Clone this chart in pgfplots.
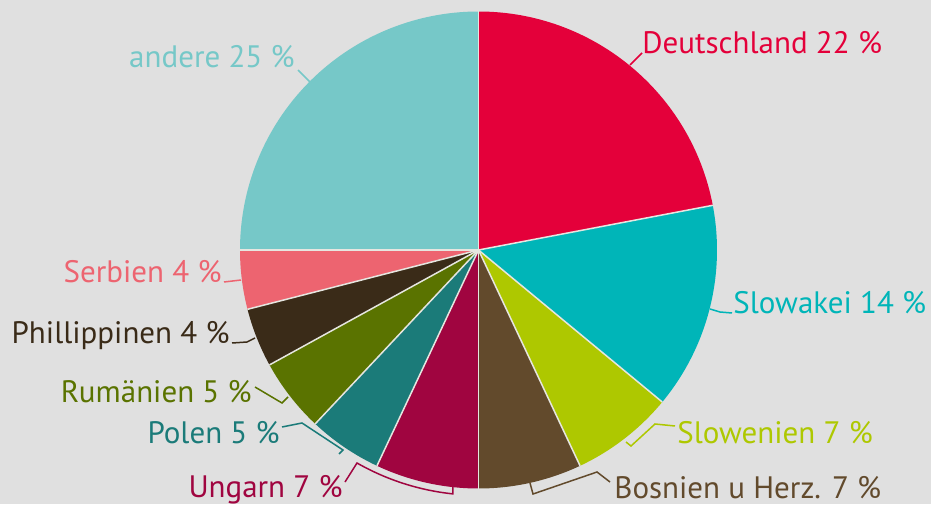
\documentclass[border=0pt]{standalone}
\usepackage{pgfplots}
\pgfplotsset{compat=1.18}
\usepackage{pgfplotstable}
\usepackage{fontspec}
\setmainfont{PT Sans}

\definecolor{bg}{HTML}{E0E0E0}
\definecolor{sep}{HTML}{E6E6E0}
\definecolor{c0}{HTML}{E4003A}
\definecolor{c1}{HTML}{00B5B8}
\definecolor{c2}{HTML}{AEC800}
\definecolor{c3}{HTML}{624A2C}
\definecolor{c4}{HTML}{A00540}
\definecolor{c5}{HTML}{1B7B79}
\definecolor{c6}{HTML}{5A7300}
\definecolor{c7}{HTML}{3A2B18}
\definecolor{c8}{HTML}{ED6470}
\definecolor{c9}{HTML}{76C8C8}

% Anteile in Prozent, im Uhrzeigersinn ab 12 Uhr
\pgfplotstableread{
name p
Deutschland 22
Slowakei 14
Slowenien 7
Bosnien 7
Ungarn 7
Polen 5
Rumaenien 5
Phillippinen 4
Serbien 4
andere 25
}\piedata
\pgfplotstablecreatecol[create col/expr accum={\pgfmathaccuma+\thisrow{p}}{0}]{cum}\piedata

\begin{document}
\begin{tikzpicture}[font=\fontsize{15.5}{18}\selectfont]
% Start-/Endwinkel je Segment
\foreach \i in {0,...,9}{
  \pgfplotstablegetelem{\i}{cum}\of\piedata \pgfmathsetmacro\ce{\pgfplotsretval}
  \pgfplotstablegetelem{\i}{p}\of\piedata \pgfmathsetmacro\pe{\pgfplotsretval}
  \pgfmathsetmacro\a{90-3.6*(\ce-\pe)}
  \pgfmathsetmacro\b{90-3.6*\ce}
  \expandafter\xdef\csname sa\i\endcsname{\a}
  \expandafter\xdef\csname ea\i\endcsname{\b}
}
\begin{axis}[
    x=0.5pt, y=0.5pt,
    xmin=0, xmax=931, ymin=0, ymax=504,
    hide axis,
    clip=false,
]
\fill[bg] (axis cs:0,0) rectangle (axis cs:931,504);
\pgfplotsinvokeforeach{0,...,9}{
  \fill[c#1] (axis cs:478.5,254) -- ++({\csname sa#1\endcsname}:119.25pt)
    arc[start angle={\csname sa#1\endcsname}, end angle={\csname ea#1\endcsname}, radius=119.25pt] -- cycle;
}
\pgfplotsinvokeforeach{0,...,9}{
  \draw[sep, line width=0.75pt] (axis cs:478.5,254) -- ++({\csname sa#1\endcsname}:119.25pt);
}

% Beschriftungen
\node[c0, anchor=base west, inner sep=0] at (axis cs:642,450) {Deutschland 22 \%};
\node[c1, anchor=base west, inner sep=0] at (axis cs:733,191) {Slowakei 14 \%};
\node[c2, anchor=base west, inner sep=0] at (axis cs:677,61) {Slowenien 7 \%};
\node[c3, anchor=base west, inner sep=0] at (axis cs:614,6) {Bosnien u Herz. 7 \%};
\node[c4, anchor=base east, inner sep=0] at (axis cs:343,7) {Ungarn 7 \%};
\node[c5, anchor=base east, inner sep=0] at (axis cs:280,61) {Polen 5 \%};
\node[c6, anchor=base east, inner sep=0] at (axis cs:252,102) {Rumänien 5 \%};
\node[c7, anchor=base east, inner sep=0] at (axis cs:230,161) {Phillippinen 4 \%};
\node[c8, anchor=base east, inner sep=0] at (axis cs:222,222) {Serbien 4 \%};
\node[c9, anchor=base east, inner sep=0] at (axis cs:295,436) {andere 25 \%};

% Hinweislinien
\begin{scope}[line width=0.75pt]
\draw[c0] (axis cs:630,439) -- (axis cs:642,451);
\draw[c1] (axis cs:710,195) -- (axis cs:720,192) -- (axis cs:732,191);
\draw[c2] (axis cs:626,62) -- (axis cs:631,58) -- (axis cs:655,80) -- (axis cs:675,78);
\draw[c3] (axis cs:530,21) -- (axis cs:533,10) -- (axis cs:597,32) -- (axis cs:610,22);
\draw[c4] (axis cs:345,22) -- (axis cs:357,41) arc[start angle=-119.7, end angle=-96, radius=122.6pt] -- ++(90:4pt);
\draw[c5] (axis cs:282,77) -- (axis cs:302,81) -- (axis cs:343,54) -- (axis cs:339,50);
\draw[c6] (axis cs:255,117) -- (axis cs:282,101) -- (axis cs:288,107);
\draw[c7] (axis cs:232,161) -- (axis cs:247,162) -- (axis cs:255,166);
\draw[c8] (axis cs:224,222) -- (axis cs:241,224);
\draw[c9] (axis cs:298,434) -- (axis cs:310,422);
\end{scope}
\end{axis}
\pgfresetboundingbox
\path[use as bounding box] (current axis.south west) rectangle (current axis.north east);
\end{tikzpicture}
\end{document}
